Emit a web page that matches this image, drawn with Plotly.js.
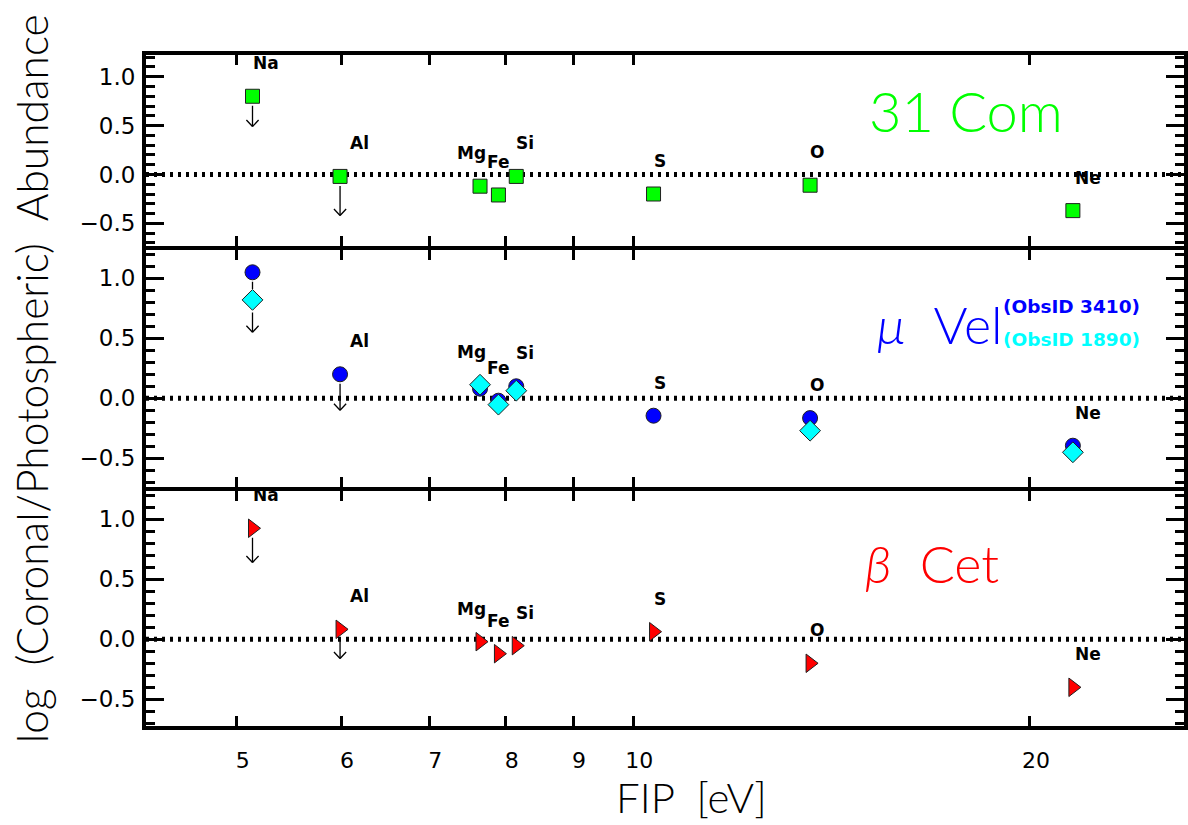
<!DOCTYPE html>
<html><head><meta charset="utf-8">
<script src="https://cdn.plot.ly/plotly-3.0.1.min.js"></script>
<style>html,body{margin:0;padding:0;background:#fff}</style>
</head><body><div id="chart" style="width:1188px;height:825px"></div>
<script>
// ---- data ----
const elements = ['Na', 'Al', 'Mg', 'Fe', 'Si', 'S', 'O', 'Ne'];
const fip = [5.14, 5.99, 7.65, 7.90, 8.15, 10.36, 13.62, 21.56];

// 31 Com
const com31 = [0.80, -0.02, -0.12, -0.21, -0.02, -0.20, -0.11, -0.37];
const com31LimitEl = ['Na', 'Al'];
const com31LimitTo = [0.49, -0.42];

// mu Vel
const muVel3410 = [1.05, 0.20, 0.08, -0.02, 0.10, -0.145, -0.165, -0.395];
const muVel1890 = [0.82, null, 0.113, -0.053, 0.063, null, -0.27, -0.45];
const muVel3410LimitEl = ['Al'];
const muVel3410LimitTo = [-0.10];
const muVel1890LimitEl = ['Na'];
const muVel1890LimitTo = [0.55];

// beta Cet
const betCet = [0.925, 0.083, -0.02, -0.12, -0.053, 0.063, -0.20, -0.40];
const betCetLimitEl = ['Na', 'Al'];
const betCetLimitTo = [0.64, -0.16];

const xTickVals = [5, 6, 7, 8, 9, 10, 20];
const xTickText = ['5', '6', '7', '8', '9', '10', '20'];
const panel2Labels = ['Al', 'Mg', 'Fe', 'Si', 'S', 'O', 'Ne'];

// ---- styling ----
const labelShiftX = {Na: 13, Al: 19, Mg: -9, Fe: 0, Si: 9, S: 6, O: 7, Ne: 15};
const FONT = 'DejaVu Sans';
const THIN = 'Lato';

function yAxis(domain, anchor, range) {
  return {
    domain: domain, anchor: anchor, range: range,
    tick0: 0, dtick: 0.5, tickformat: '.1f',
    ticks: 'inside', ticklen: 18, tickwidth: 3, tickcolor: '#000',
    showline: true, linewidth: 4, linecolor: '#000', mirror: 'ticks',
    showgrid: false, zeroline: false,
    tickfont: {family: FONT, size: 23, color: '#000'},
    ticklabelstandoff: 2,
    minor: {tick0: 0, dtick: 0.1, ticks: 'inside', ticklen: 9, tickwidth: 3, tickcolor: '#000', showgrid: false}
  };
}
function xAxis(anchor, showLabels) {
  return {
    type: 'log', anchor: anchor, domain: [0, 1],
    range: [0.63013, 1.41798],
    tickmode: 'array', tickvals: xTickVals, ticktext: xTickText,
    ticks: 'inside', ticklen: 10, tickwidth: 3, tickcolor: '#000',
    showline: true, linewidth: 4, linecolor: '#000', mirror: 'ticks',
    showgrid: false, zeroline: false, showticklabels: showLabels,
    tickfont: {family: FONT, size: 22, color: '#000'},
    ticklabelstandoff: 12, ticklabelshift: 6
  };
}

const mk = (sym, size, color) => ({symbol: sym, size: size, color: color, line: {color: '#202020', width: 1}});
const traces = [
  {type: 'scatter', mode: 'markers', x: fip, y: com31, xaxis: 'x', yaxis: 'y', marker: mk('square', 14, '#00ff00'), hoverinfo: 'skip'},
  {type: 'scatter', mode: 'markers', x: fip, y: muVel3410, xaxis: 'x2', yaxis: 'y2', marker: mk('circle', 15, '#0000ff'), hoverinfo: 'skip'},
  {type: 'scatter', mode: 'markers', x: fip, y: muVel1890, xaxis: 'x2', yaxis: 'y2', marker: mk('diamond', 16, '#00ffff'), hoverinfo: 'skip'},
  {type: 'scatter', mode: 'markers', x: fip, y: betCet, xaxis: 'x3', yaxis: 'y3', marker: mk('triangle-right', 16, '#ff0000'), hoverinfo: 'skip'}
];

const annotations = [];
function stem(xa, ya, el, from, to, startOff, endOff) {
  const lx = Math.log10(fip[elements.indexOf(el)]);
  annotations.push({xref: xa, yref: ya, axref: xa, ayref: ya, x: lx, y: to, ax: lx, ay: from,
    text: '', showarrow: true, arrowhead: 0, arrowwidth: 1.3, arrowcolor: '#000',
    startstandoff: startOff, standoff: endOff});
}
function head(xa, ya, el, to) {
  const lx = Math.log10(fip[elements.indexOf(el)]);
  [-7.5, 7.5].forEach(dx => annotations.push({xref: xa, yref: ya, x: lx, y: to, ax: dx, ay: -8,
    text: '', showarrow: true, arrowhead: 0, arrowwidth: 1.3, arrowcolor: '#000'}));
}
function limitArrow(xa, ya, el, from, to, startOff) {
  stem(xa, ya, el, from, to, startOff, 0);
  head(xa, ya, el, to);
}
com31LimitEl.forEach((el, i) => limitArrow('x', 'y', el, com31[elements.indexOf(el)], com31LimitTo[i], 8));
muVel3410LimitEl.forEach((el, i) => limitArrow('x2', 'y2', el, muVel3410[elements.indexOf(el)], muVel3410LimitTo[i], 8));
muVel1890LimitEl.forEach((el, i) => {
  const k = elements.indexOf(el);
  stem('x2', 'y2', el, muVel3410[k], muVel1890[k], 8, 11);
  limitArrow('x2', 'y2', el, muVel1890[k], muVel1890LimitTo[i], 11);
});
betCetLimitEl.forEach((el, i) => limitArrow('x3', 'y3', el, betCet[elements.indexOf(el)], betCetLimitTo[i], 8));

function elLabels(xa, ya, list, valuesA, valuesB) {
  list.forEach(el => {
    const k = elements.indexOf(el);
    let v = valuesA[k];
    if (valuesB && valuesB[k] !== null && valuesB[k] > v) v = valuesB[k];
    annotations.push({xref: xa, yref: ya, x: Math.log10(fip[k]), y: v, text: '<b>' + el + '</b>',
      showarrow: false, xanchor: 'center', yanchor: 'middle', xshift: labelShiftX[el], yshift: 33,
      font: {family: FONT, size: 17, color: '#000'}});
  });
}
elLabels('x', 'y', elements, com31);
elLabels('x2', 'y2', panel2Labels, muVel3410, muVel1890);
elLabels('x3', 'y3', elements, betCet);

const big = (c, s) => ({family: THIN, size: s, color: c, weight: 300});
annotations.push({xref: 'paper', yref: 'paper', x: 0.79, y: 0.918, text: '31 Com', showarrow: false, xanchor: 'center', yanchor: 'middle', font: big('#00ff00', 56)});
annotations.push({xref: 'paper', yref: 'paper', x: 0.8275, y: 0.5986, text: '<i>μ</i>  Vel', showarrow: false, xanchor: 'right', yanchor: 'middle', font: big('#0000ff', 52)});
annotations.push({xref: 'paper', yref: 'paper', x: 0.8237, y: 0.6245, text: '<b>(ObsID 3410)</b>', showarrow: false, xanchor: 'left', yanchor: 'middle', font: {family: FONT, size: 18.5, color: '#0000ff'}});
annotations.push({xref: 'paper', yref: 'paper', x: 0.8237, y: 0.5753, text: '<b>(ObsID 1890)</b>', showarrow: false, xanchor: 'left', yanchor: 'middle', font: {family: FONT, size: 18.5, color: '#00ffff'}});
annotations.push({xref: 'paper', yref: 'paper', x: 0.757, y: 0.243, text: '<i>β</i>  Cet', showarrow: false, xanchor: 'center', yanchor: 'middle', font: big('#ff0000', 52)});

annotations.push({xref: 'paper', yref: 'paper', x: 0.526, y: -0.106, text: 'FIP  [eV]', showarrow: false, xanchor: 'center', yanchor: 'middle', font: big('#000', 42)});
annotations.push({xref: 'paper', yref: 'paper', x: -0.11, y: 0.518, text: 'log  (Coronal/Photospheric)  Abundance', textangle: -90, showarrow: false, xanchor: 'center', yanchor: 'middle', font: big('#000', 42.5)});

const zeroLine = (xa, ya) => ({type: 'line', layer: 'below', xref: xa + ' domain', yref: ya, x0: 0, x1: 1, y0: 0, y1: 0, line: {color: '#000', width: 5, dash: '3px,5px'}});

const layout = {
  width: 1188, height: 825, showlegend: false,
  paper_bgcolor: '#fff', plot_bgcolor: '#fff',
  margin: {l: 146, r: 4, t: 55, b: 99},
  xaxis: xAxis('y', false), xaxis2: xAxis('y2', false), xaxis3: xAxis('y3', true),
  yaxis: yAxis([0.7149, 1], 'x', [-0.735, 1.222]),
  yaxis2: yAxis([0.3557, 0.7089], 'x2', [-0.742, 1.233]),
  yaxis3: yAxis([0, 0.3498], 'x3', [-0.7225, 1.233]),
  shapes: [zeroLine('x', 'y'), zeroLine('x2', 'y2'), zeroLine('x3', 'y3')],
  annotations: annotations
};
Plotly.newPlot('chart', traces, layout, {displayModeBar: false, staticPlot: true});
</script></body></html>
